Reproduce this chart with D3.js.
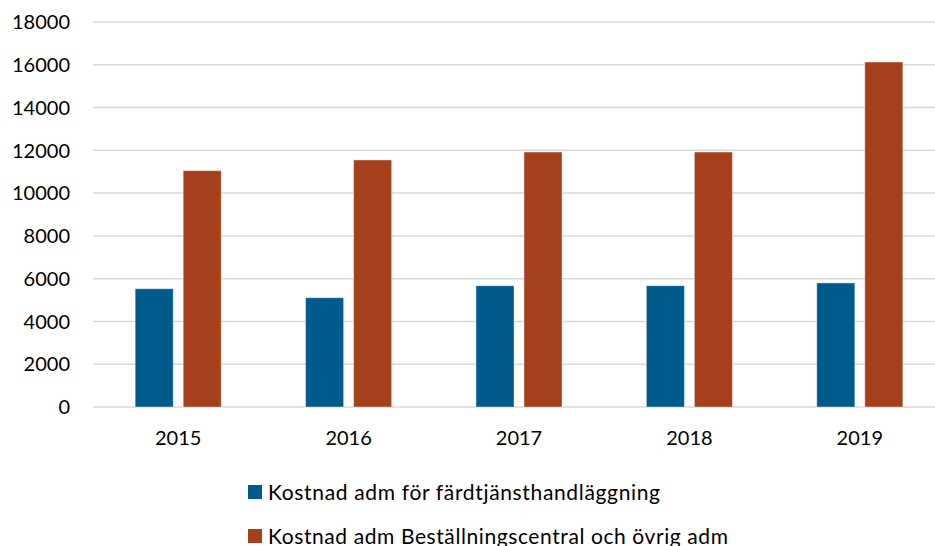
<!DOCTYPE html>
<html><head><meta charset="utf-8">
<script src="https://cdn.jsdelivr.net/npm/d3@7"></script>
<style>body{margin:0;background:#fff}svg{display:block}text{font-family:Lato,"Open Sans",sans-serif}</style>
</head><body>
<svg id="c" width="935" height="546"></svg>
<script>
const years = ["2015","2016","2017","2018","2019"];
const seriesNames = ["Kostnad adm för färdtjänsthandläggning","Kostnad adm Beställningscentral och övrig adm"];
const handlaggning = [5530, 5110, 5670, 5670, 5800];
const bestallning = [11050, 11550, 11920, 11920, 16130];
const yTicks = [0,2000,4000,6000,8000,10000,12000,14000,16000,18000];
const colors = ["#005a8c","#a6401c"];

const svg = d3.select("#c");
const x0 = d3.scaleBand().domain(years).range([93, 945]).paddingInner(0.495).paddingOuter(0.2475);
const x1 = d3.scaleBand().domain([0,1]).range([0, x0.bandwidth()]).paddingInner(0.208);
const y = d3.scaleLinear().domain([0,18000]).range([407,22]);

// gridlines
svg.append("g").selectAll("line").data(yTicks).join("line")
  .attr("x1",93).attr("x2",935).attr("y1",d=>y(d)).attr("y2",d=>y(d))
  .attr("stroke","#d9d9d9").attr("stroke-width",1.5);

// y labels
svg.append("g").selectAll("text").data(yTicks).join("text")
  .attr("x",70).attr("y",d=>y(d)).attr("dy","0.36em").attr("text-anchor","end")
  .attr("font-size",20).attr("fill","#000").text(d=>d);

// bars
const data = years.map((yr,i)=>({yr, v:[handlaggning[i], bestallning[i]]}));
const g = svg.append("g").selectAll("g").data(data).join("g")
  .attr("transform",d=>`translate(${x0(d.yr)},0)`);
g.selectAll("rect").data(d=>d.v.map((v,k)=>({v,k}))).join("rect")
  .attr("x",d=>x1(d.k)).attr("width",x1.bandwidth())
  .attr("y",d=>y(d.v)).attr("height",d=>y(0)-y(d.v))
  .attr("fill",d=>colors[d.k]).attr("stroke","rgba(255,255,255,0.4)").attr("stroke-width",1);

// x labels
svg.append("g").selectAll("text").data(years).join("text")
  .attr("x",d=>x0(d)+x0.bandwidth()/2).attr("y",438).attr("dy","0.36em")
  .attr("text-anchor","middle").attr("font-size",20).attr("fill","#000").text(d=>d);

// legend
const legendWidths = [392, 460];
const lg = svg.append("g").selectAll("g").data(seriesNames).join("g")
  .attr("transform",(d,i)=>`translate(248,${492 + i*44})`);
lg.append("rect").attr("x",0).attr("y",-7).attr("width",14).attr("height",14).attr("fill",(d,i)=>colors[i]);
lg.append("text").attr("x",20).attr("y",0).attr("dy","0.36em").attr("font-size",21)
  .attr("textLength",(d,i)=>legendWidths[i]).attr("lengthAdjust","spacing")
  .attr("fill","#000").text(d=>d);
</script>
</body></html>
